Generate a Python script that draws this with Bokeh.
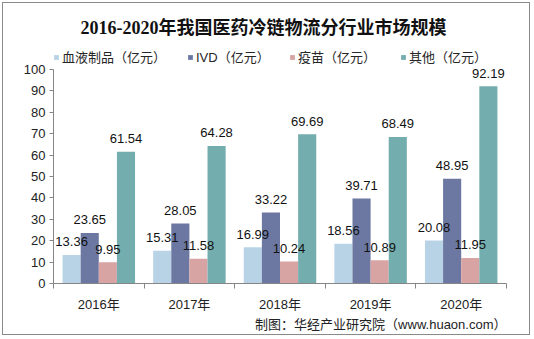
from bokeh.plotting import figure
from bokeh.models import (ColumnDataSource, FixedTicker, Label, LabelSet, Legend, LegendItem, Title)
from bokeh.core.properties import value
from bokeh.transform import dodge
from bokeh.embed import file_html
from bokeh.resources import INLINE

# ---- data ----
years = ["2016年", "2017年", "2018年", "2019年", "2020年"]
series_names = ["血液制品（亿元）", "IVD（亿元）", "疫苗（亿元）", "其他（亿元）"]
blood = [13.36, 15.31, 16.99, 18.56, 20.08]
ivd = [23.65, 28.05, 33.22, 39.71, 48.95]
vaccine = [9.95, 11.58, 10.24, 10.89, 11.95]
other = [61.54, 64.28, 69.69, 68.49, 92.19]
y_ticks = list(range(0, 101, 10))
y_max_axis = 100
title_text = "2016-2020年我国医药冷链物流分行业市场规模"
source_text = "制图：华经产业研究院（www.huaon.com）"

colors = ["#b9d3e6", "#6c78a2", "#d8a4a3", "#74adad"]
series = [blood, ivd, vaccine, other]

W, H = 528, 333
FL, FR, FT, FB = 50, 25, 4, 53      # frame borders inside the figure
AXIS_TOP = 66                        # pixel row of the value 100
fw = W - FL - FR
plot_h = H - FB - AXIS_TOP
ytop = y_max_axis * (H - FB - FT) / plot_h

def dx(px):
    return (px - FL) / fw * len(years)
def dy(py):
    return (H - FB - py) / plot_h * y_max_axis

p = figure(width=W, height=H, x_range=(0, len(years)), y_range=(0, ytop), title=None,
           output_backend="svg", toolbar_location=None,
           min_border_left=FL, min_border_right=FR, min_border_top=FT, min_border_bottom=FB)
p.styles = {"margin": "2px", "border": "1px solid #8a8a8a"}
p.outline_line_color = None
p.xgrid.visible = False
p.ygrid.visible = False
p.background_fill_color = "white"
p.border_fill_color = "white"

xs = [i + 0.5 for i in range(len(years))]
FONT = "Liberation Sans, Noto Sans CJK SC"

offsets = [-0.3, -0.1, 0.1, 0.3]
leg_x = [0, 134, 236, 347]
for j, (vals, col, name) in enumerate(zip(series, colors, series_names)):
    src = ColumnDataSource(dict(x=xs, y=vals, t=[f"{v:.2f}" for v in vals]))
    r = p.vbar(x=dodge("x", offsets[j], range=None), top="y", width=0.2, source=src,
               fill_color=col, line_color=None)
    ls = LabelSet(x=dodge("x", offsets[j], range=None), y="y", text="t", source=src,
                  text_align="center", text_baseline="middle", y_offset=13,
                  text_font=value(FONT), text_font_size=value("13px"),
                  text_color="#111111")
    p.add_layout(ls)
    lg = Legend(items=[LegendItem(label=name, renderers=[r])],
                location=(leg_x[j], plot_h + 10 - 7), orientation="horizontal",
                padding=0, margin=0, spacing=0, border_line_color=None,
                background_fill_alpha=0, glyph_width=6, glyph_height=6,
                label_height=14, label_standoff=3,
                label_text_font=FONT, label_text_font_size="13px",
                label_text_color="#262626")
    p.add_layout(lg)

# title inside the (extended) frame
p.add_layout(Label(x=dx(260), y=dy(24), text=title_text, text_align="center",
                   text_baseline="middle", text_font="Liberation Serif, Noto Sans CJK SC",
                   text_font_style="bold", text_font_size="18px", text_color="#111111"))

# axes
yaxis = p.yaxis[0]
yaxis.ticker = FixedTicker(ticks=y_ticks)
yaxis.bounds = (0, y_max_axis)
yaxis.axis_line_color = "#868686"
yaxis.major_tick_line_color = "#868686"
yaxis.major_tick_out = 4
yaxis.major_tick_in = 0
yaxis.minor_tick_line_color = None
yaxis.major_label_text_font = FONT
yaxis.major_label_text_font_size = "13px"
yaxis.major_label_text_color = "#222222"
yaxis.major_label_standoff = 4

xaxis = p.xaxis[0]
xaxis.ticker = FixedTicker(ticks=xs, minor_ticks=list(range(len(years) + 1)))
xaxis.major_label_overrides = {x: y for x, y in zip(xs, years)}
xaxis.axis_line_color = "#868686"
xaxis.major_tick_line_color = None
xaxis.major_tick_out = 0
xaxis.major_tick_in = 0
xaxis.minor_tick_line_color = "#868686"
xaxis.minor_tick_out = 5
xaxis.minor_tick_in = 0
xaxis.major_label_text_font = FONT
xaxis.major_label_text_font_size = "13px"
xaxis.major_label_text_color = "#222222"
xaxis.major_label_standoff = 8

p.add_layout(Title(text=source_text, align="right", text_font=FONT, text_font_style="normal",
                   text_font_size="13px", text_color="#222222", standoff=0), "below")

open("out.html", "w").write(file_html(p, INLINE))
